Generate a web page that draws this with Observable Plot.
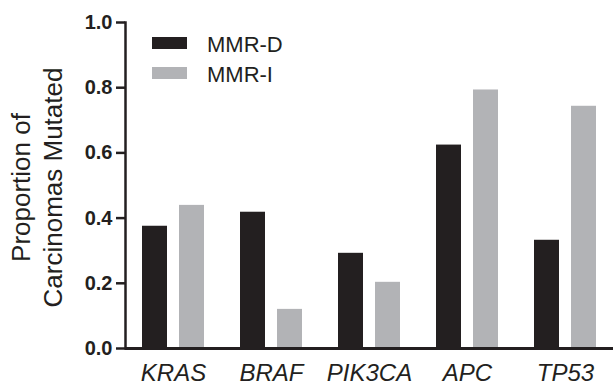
<!DOCTYPE html>
<html>
<head>
<meta charset="utf-8">
<script src="https://cdn.jsdelivr.net/npm/d3@7"></script>
<script src="https://cdn.jsdelivr.net/npm/@observablehq/plot@0.6"></script>
<style>
  body { margin: 0; background: #fff; }
  #wrap { position: relative; width: 614px; height: 384px; font-family: "Liberation Sans", Arial, Helvetica, sans-serif; color: #231f20; }
  #legend { position: absolute; left: 152px; top: 30px; }
  .row { display: flex; align-items: center; height: 30px; font-size: 22px; line-height: 30px; }
  .sw { width: 35px; height: 12px; margin-right: 20px; position: relative; top: -2px; }
</style>
</head>
<body>
<div id="wrap"></div>
<script>
const genes = ["KRAS", "BRAF", "PIK3CA", "APC", "TP53"];
const mmrD = [0.375, 0.418, 0.292, 0.624, 0.332];
const mmrI = [0.439, 0.120, 0.203, 0.793, 0.743];
const seriesNames = ["MMR-D", "MMR-I"];
const seriesColors = ["#231f20", "#b2b3b6"];
const yTicks = [0, 0.2, 0.4, 0.6, 0.8, 1.0];
const yLabel = "Proportion of\nCarcinomas Mutated";

const data = genes.map((g, i) => ({gene: g, d: mmrD[i], i: mmrI[i]}));

const chart = Plot.plot({
  width: 614,
  height: 384,
  marginLeft: 125,
  marginRight: 1,
  marginTop: 22,
  marginBottom: 36,
  style: {fontFamily: "'Liberation Sans', Arial, Helvetica, sans-serif", color: "#231f20", background: "#fff"},
  x: {domain: genes, paddingInner: 0.367, paddingOuter: 0.173, axis: null},
  y: {domain: [0, 1], axis: null},
  marks: [
    Plot.barY(data, {x: "gene", y: "d", fill: seriesColors[0], insetRight: 37}),
    Plot.barY(data, {x: "gene", y: "i", fill: seriesColors[1], insetLeft: 37}),
    Plot.ruleY([0], {stroke: "#231f20", strokeWidth: 3}),
    Plot.frame({anchor: "left", stroke: "#231f20", strokeWidth: 2.5}),
    Plot.axisY({ticks: yTicks, tickFormat: d3.format(".1f"), tickSize: 9, tickPadding: 4, strokeWidth: 2.5, stroke: "#231f20", fill: "#231f20", fontSize: 20, fontWeight: "bold", label: null}),
    Plot.axisX({tickSize: 0, tickPadding: 15, fontSize: 24, fontStyle: "italic", fill: "#231f20", label: null}),
    Plot.text([yLabel], {text: d => d, frameAnchor: "left", textAnchor: "middle", rotate: -90, dx: -90, dy: 2, fontSize: 26, lineHeight: 1.23, fill: "#231f20"})
  ]
});

const wrap = document.getElementById("wrap");
wrap.appendChild(chart);
const legend = document.createElement("div");
legend.id = "legend";
seriesNames.forEach((name, k) => {
  const row = document.createElement("div");
  row.className = "row";
  const sw = document.createElement("span");
  sw.className = "sw";
  sw.style.background = seriesColors[k];
  const t = document.createElement("span");
  t.textContent = name;
  row.appendChild(sw);
  row.appendChild(t);
  legend.appendChild(row);
});
wrap.appendChild(legend);
</script>
</body>
</html>
